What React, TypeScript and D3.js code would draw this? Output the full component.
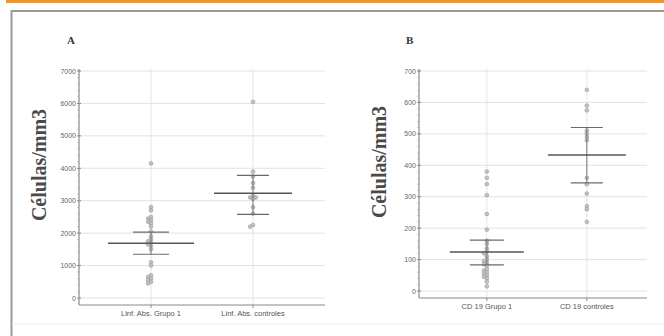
import * as d3 from "d3"

// Panel A: linfocitos absolutos
const catsA = ["Linf. Abs. Grupo 1", "Linf. Abs. controles"]
const grupoA = [4150, 2800, 2700, 2500, 2450, 2400, 2350, 2300, 2200, 2050, 1900, 1800, 1750, 1700, 1650, 1600, 1500, 1100, 1000, 700, 650, 600, 550, 500, 450]
const controlA = [6050, 3900, 3750, 3550, 3400, 3150, 3100, 3100, 3050, 2800, 2600, 2250, 2200]
// mean, upper, lower
const statsA = [[1690, 2030, 1350], [3230, 3780, 2580]]
const ticksA = [0, 1000, 2000, 3000, 4000, 5000, 6000, 7000]

// Panel B: CD19
const catsB = ["CD 19 Grupo 1", "CD 19 controles"]
const grupoB = [380, 360, 340, 305, 245, 195, 160, 150, 135, 125, 120, 110, 100, 95, 90, 85, 80, 70, 65, 60, 55, 50, 45, 40, 30, 15]
const controlB = [640, 590, 575, 510, 500, 490, 480, 360, 340, 310, 270, 260, 220]
const statsB = [[124, 162, 83], [433, 520, 344]]
const ticksB = [0, 100, 200, 300, 400, 500, 600, 700]

const W = 664, H = 336

// simple beeswarm dodge so stacked points sit side by side
function swarm(vals: number[], y: (v: number) => number, r: number) {
  const placed: { x: number; y: number }[] = []
  const sorted = [...vals].sort((a, b) => b - a)
  return sorted.map(v => {
    const py = y(v)
    const cands = [0, -1, 1, -2, 2, -3, 3, -4, 4].map(k => k * r * 1.5)
    let dx = 0
    for (const c of cands) {
      if (placed.every(p => (p.x - c) ** 2 + (p.y - py) ** 2 >= (r * 1.6) ** 2)) { dx = c; break }
    }
    placed.push({ x: dx, y: py })
    return { dx, y: py }
  })
}

interface PanelProps {
  letter: string; letterX: number
  cats: string[]; groups: number[][]; stats: number[][]; ticks: number[]
  x0: number; x1: number; align: number; pad: number
  yTop: number; yZero: number; axisY: number; maxV: number
  labelX: number; labelY: number
  meanHalf: number[]; sdHalf: number[]
}

function Panel(p: PanelProps) {
  const x = d3.scalePoint<string>().domain(p.cats).range([p.x0, p.x1]).padding(p.pad).align(p.align)
  const y = d3.scaleLinear().domain([0, p.maxV]).range([p.yZero, p.yTop])
  const step = p.ticks[1] - p.ticks[0]
  const minor = d3.range(0, p.maxV, step / 5).filter(v => v % step !== 0)
  return (
    <g>
      <text x={p.letterX} y={44} fontFamily="Liberation Serif" fontWeight="bold" fontSize={11} fill="#333">{p.letter}</text>
      <text transform={`translate(${p.labelX},${p.labelY}) rotate(-90)`} textAnchor="middle"
        fontFamily="Liberation Serif" fontWeight="bold" fontSize={20} fill="#4a4a4a">Células/mm3</text>
      {/* grid */}
      {p.ticks.map(t => <line key={"g" + t} x1={p.x0} x2={p.x1} y1={y(t)} y2={y(t)} stroke="#e2e2e2" strokeWidth={1} />)}
      {p.cats.map(c => <line key={"v" + c} x1={x(c)} x2={x(c)} y1={p.yTop - 2} y2={p.axisY} stroke="#e6e6e6" strokeWidth={1} />)}
      {/* axes */}
      <line x1={p.x0} x2={p.x0} y1={p.yTop - 2} y2={p.axisY} stroke="#8a8a8a" strokeWidth={1.2} />
      <line x1={p.x0} x2={p.x1} y1={p.axisY} y2={p.axisY} stroke="#8a8a8a" strokeWidth={1.2} />
      {p.ticks.map(t => (
        <g key={"t" + t}>
          <line x1={p.x0 - 2} x2={p.x0 + 2} y1={y(t)} y2={y(t)} stroke="#8a8a8a" />
          <text x={p.x0 - 3} y={y(t) + 2.5} textAnchor="end" fontFamily="Liberation Sans" fontSize={7} fill="#666">{t}</text>
        </g>
      ))}
      {minor.map(t => <line key={"m" + t} x1={p.x0 - 1.5} x2={p.x0} y1={y(t)} y2={y(t)} stroke="#aaa" />)}
      {p.cats.map(c => (
        <g key={"c" + c}>
          <line x1={x(c)} x2={x(c)} y1={p.axisY} y2={p.axisY + 3} stroke="#8a8a8a" />
          <text x={x(c)} y={p.axisY + 11} textAnchor="middle" fontFamily="Liberation Sans" fontSize={7.5} fill="#555">{c}</text>
        </g>
      ))}
      {/* points */}
      {p.groups.map((vals, i) => swarm(vals, y, 1.9).map((pt, j) => (
        <circle key={`p${i}-${j}`} cx={(x(p.cats[i]) as number) + pt.dx} cy={pt.y} r={1.9}
          fill="#c2c2c2" stroke="#999" strokeWidth={0.6} />
      )))}
      {/* mean and spread */}
      {p.stats.map((s, i) => {
        const cx = x(p.cats[i]) as number
        return (
          <g key={"s" + i}>
            <line x1={cx} x2={cx} y1={y(s[1])} y2={y(s[2])} stroke="#777" strokeWidth={1} />
            <line x1={cx - p.sdHalf[i]} x2={cx + p.sdHalf[i]} y1={y(s[1])} y2={y(s[1])} stroke="#6a6a6a" strokeWidth={1.1} />
            <line x1={cx - p.sdHalf[i]} x2={cx + p.sdHalf[i]} y1={y(s[2])} y2={y(s[2])} stroke="#6a6a6a" strokeWidth={1.1} />
            <line x1={cx - p.meanHalf[i]} x2={cx + p.meanHalf[i]} y1={y(s[0])} y2={y(s[0])} stroke="#555" strokeWidth={1.5} />
          </g>
        )
      })}
    </g>
  )
}

export default function App() {
  return (
    <svg width={W} height={H} style={{ display: "block", position: "absolute", left: 0, top: 0, background: "#fff" }}>
      <rect x={0} y={0} width={W} height={H} fill="#fff" />
      <rect x={6} y={0} width={W - 6} height={3} fill="#f7941d" />
      <path d={`M11.5,${H} V11 H${W}`} fill="none" stroke="#9a9a9a" strokeWidth={2} />
      <line x1={12} x2={W} y1={324} y2={324} stroke="#efefef" />
      <Panel letter="A" letterX={67} cats={catsA} groups={[grupoA, controlA]} stats={statsA} ticks={ticksA}
        x0={79} x1={325} pad={0.706} align={0.5} yTop={71} yZero={298} axisY={305} maxV={7000}
        labelX={46} labelY={165} meanHalf={[43, 39]} sdHalf={[18, 16]} />
      <Panel letter="B" letterX={406} cats={catsB} groups={[grupoB, controlB]} stats={statsB} ticks={ticksB}
        x0={419} x1={647} pad={0.64} align={0.53} yTop={71} yZero={291} axisY={298} maxV={700}
        labelX={386} labelY={162} meanHalf={[37, 39]} sdHalf={[17, 16]} />
    </svg>
  )
}
